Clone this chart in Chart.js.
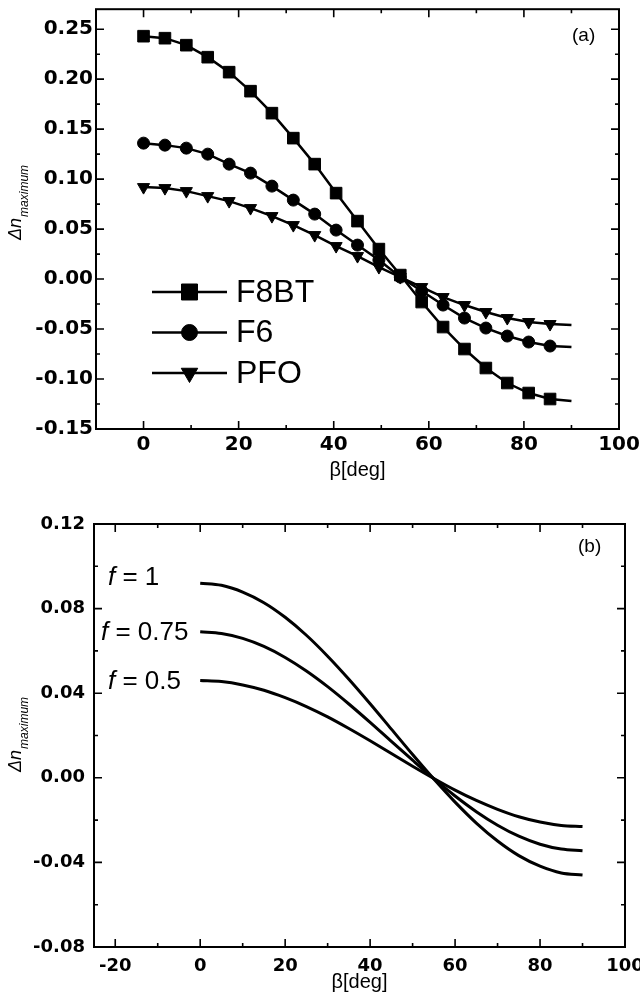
<!DOCTYPE html>
<html><head><meta charset="utf-8">
<script src="https://cdn.jsdelivr.net/npm/chart.js@4.4.1/dist/chart.umd.min.js"></script>
<style>
html,body{margin:0;padding:0;background:#fff;width:640px;height:1004px;overflow:hidden}
#ca{position:absolute;left:0;top:0}
#cb{position:absolute;left:0;top:480px}
</style></head><body>
<canvas id="ca" width="640" height="480"></canvas>
<canvas id="cb" width="640" height="524"></canvas>
<script>
// ---------- data ----------
const betaA = [0,4.5,9,13.5,18,22.5,27,31.5,36,40.5,45,49.5,54,58.5,63,67.5,72,76.5,81,85.5,90];
const f8bt = [0.243,0.241,0.234,0.222,0.207,0.188,0.166,0.141,0.115,0.086,0.058,0.030,0.004,-0.023,-0.048,-0.070,-0.089,-0.104,-0.114,-0.120,-0.122];
const f6   = [0.136,0.134,0.131,0.125,0.115,0.106,0.093,0.079,0.065,0.049,0.034,0.019,0.002,-0.012,-0.026,-0.039,-0.049,-0.057,-0.063,-0.067,-0.068];
const pfo  = [0.092,0.091,0.088,0.083,0.078,0.071,0.063,0.054,0.044,0.033,0.023,0.012,0.002,-0.008,-0.018,-0.026,-0.033,-0.039,-0.043,-0.045,-0.046];
const seriesA = ['F8BT','F6','PFO'];

const betaB = [0,5,10,15,20,25,30,35,40,45,50,55,60,65,70,75,80,85,90];
const fOne  = [0.092,0.091,0.0878,0.0828,0.0759,0.0674,0.0575,0.0466,0.035,0.023,0.011,-0.0006,-0.0115,-0.0214,-0.0299,-0.0368,-0.0418,-0.045,-0.046];
const fHigh = [0.069,0.0682,0.0659,0.0621,0.0569,0.0505,0.0431,0.0349,0.0262,0.0172,0.0083,-0.0004,-0.0086,-0.016,-0.0224,-0.0276,-0.0314,-0.0337,-0.0345];
const fHalf = [0.046,0.0455,0.0439,0.0414,0.0379,0.0337,0.0288,0.0233,0.0175,0.0115,0.0055,-0.0003,-0.0058,-0.0107,-0.0149,-0.0184,-0.0209,-0.0225,-0.023];
const seriesB = ['f = 1','f = 0.75','f = 0.5'];

// tick values
const xTicksA = [0,20,40,60,80,100];
const yTicksA = [-0.15,-0.10,-0.05,0,0.05,0.10,0.15,0.20,0.25];
const xTicksB = [-20,0,20,40,60,80,100];
const yTicksB = [-0.08,-0.04,0,0.04,0.08,0.12];

const xTitle = 'β[deg]';
const yTitleMain = 'Δn', yTitleSub = 'maximum';
const panelA = '(a)', panelB = '(b)';

// ---------- helpers ----------
const pts = (xs, ys) => xs.map((x,i)=>({x, y: ys[i]}));
const fmt2 = v => Math.abs(v) < 1e-9 ? '0.00' : Number(v).toFixed(2);
const tickFont = (s) => ({family:'DejaVu Sans', weight:'bold', size:s});

const frameTicks = {
  id:'frameTicks',
  afterDatasetsDraw(chart, args, o) {
    const {ctx, chartArea:a} = chart;
    const xs = chart.scales.x, ys = chart.scales.y;
    ctx.save();
    ctx.strokeStyle = '#000';
    ctx.lineWidth = 2;
    ctx.strokeRect(a.left, a.top, a.right - a.left, a.bottom - a.top);
    ctx.lineWidth = 1.6;
    const run = (scale, minorStep, majorStep, horiz) => {
      const k0 = Math.ceil(scale.min / minorStep - 1e-9), k1 = Math.floor(scale.max / minorStep + 1e-9);
      for (let k = k0; k <= k1; k++) {
        const v = k * minorStep;
        const r = v / majorStep;
        const major = Math.abs(r - Math.round(r)) < 1e-6;
        const L = major ? 8 : 4;
        const p = scale.getPixelForValue(v);
        ctx.beginPath();
        if (horiz) {
          if (p <= a.left + 1 || p >= a.right - 1) continue;
          ctx.moveTo(p, a.bottom); ctx.lineTo(p, a.bottom - L);
          ctx.moveTo(p, a.top); ctx.lineTo(p, a.top + L);
        } else {
          if (p <= a.top + 1 || p >= a.bottom - 1) continue;
          ctx.moveTo(a.left, p); ctx.lineTo(a.left + L, p);
          ctx.moveTo(a.right, p); ctx.lineTo(a.right - L, p);
        }
        ctx.stroke();
      }
    };
    run(xs, o.xMinor, o.xMajor, true);
    run(ys, o.yMinor, o.yMajor, false);
    ctx.restore();
  }
};

function marker(ctx, style, r, x, y, rot) {
  ctx.fillStyle = '#000'; ctx.strokeStyle = '#000'; ctx.lineWidth = 1;
  if (Chart.helpers && Chart.helpers.drawPoint) {
    Chart.helpers.drawPoint(ctx, {pointStyle: style, radius: r, rotation: rot || 0, borderWidth: 1}, x, y);
  }
}

const extras = {
  id:'extras',
  afterDraw(chart, args, o) {
    const ctx = chart.ctx;
    ctx.save();
    ctx.fillStyle = '#000';
    if (o.yTitle) {
      const t = o.yTitle;
      ctx.save();
      ctx.translate(t.x, t.y);
      ctx.rotate(-Math.PI/2);
      ctx.textBaseline = 'alphabetic';
      ctx.textAlign = 'left';
      ctx.font = 'italic 18px "Liberation Sans"';
      ctx.fillText(yTitleMain, 0, 0);
      const w = ctx.measureText(yTitleMain).width;
      ctx.font = 'italic 12px "Liberation Sans"';
      ctx.fillText(yTitleSub, w + 1, 6.5);
      ctx.restore();
    }
    if (o.legend) {
      const L = o.legend;
      chart.data.datasets.forEach((ds, i) => {
        const y = L.y0 + i * L.dy;
        ctx.strokeStyle = '#000'; ctx.lineWidth = 2.5;
        ctx.beginPath(); ctx.moveTo(L.x0, y); ctx.lineTo(L.x1, y); ctx.stroke();
        marker(ctx, ds.pointStyle, L.r[i], (L.x0 + L.x1) / 2, y, ds.rotation);
        ctx.fillStyle = '#000';
        ctx.font = '32px "Liberation Sans"';
        ctx.textBaseline = 'middle'; ctx.textAlign = 'left';
        ctx.fillText(ds.label, L.tx, y + 1);
      });
    }
    (o.labels || []).forEach(lb => {
      let x = lb.x;
      ctx.textBaseline = 'middle'; ctx.textAlign = 'left';
      lb.parts.forEach(p => {
        ctx.font = p.font;
        ctx.fillText(p.t, x, lb.y);
        x += ctx.measureText(p.t).width;
      });
    });
    ctx.restore();
  }
};

Chart.defaults.font.family = 'Liberation Sans';
Chart.defaults.color = '#000';

function axes(cfg) {
  return {
    x: {
      type:'linear', position:'bottom', min: cfg.xmin, max: cfg.xmax,
      afterBuildTicks(s){ s.ticks = cfg.xt.map(v => ({value: v})); },
      ticks:{autoSkip:false, maxRotation:0, minRotation:0,
        padding: cfg.xpad, color:'#000', font: tickFont(cfg.fs), callback: v => String(v)},
      grid:{display:false, drawTicks:false}, border:{display:false},
      title:{display:true, text:xTitle, color:'#000', font:{family:'Liberation Sans', size:20, lineHeight:1}, padding:{top:0, bottom: cfg.tpad}},
      afterFit(s){ s.height = cfg.xh; s.paddingLeft = 0; s.paddingRight = 0; }
    },
    y: {
      type:'linear', position:'left', min: cfg.ymin, max: cfg.ymax,
      afterBuildTicks(s){ s.ticks = cfg.yt.map(v => ({value: v})); },
      ticks:{autoSkip:false, padding: cfg.ypad, color:'#000', font: tickFont(cfg.fs), callback: v => fmt2(v)},
      grid:{display:false, drawTicks:false}, border:{display:false},
      afterFit(s){ s.width = cfg.yw; s.paddingTop = 0; s.paddingBottom = 0; }
    }
  };
}

// ---------- chart (a) ----------
const rA = (r) => betaA.map((b, i) => i === betaA.length - 1 ? 0 : r);
new Chart(document.getElementById('ca'), {
  type:'scatter',
  data:{ datasets:[
    {label: seriesA[0], data: pts(betaA, f8bt), pointStyle:'rect', rotation:0, pointRadius: rA(8.2)},
    {label: seriesA[1], data: pts(betaA, f6), pointStyle:'circle', rotation:0, pointRadius: rA(6)},
    {label: seriesA[2], data: pts(betaA, pfo), pointStyle:'triangle', rotation:180, pointRadius: rA(7)}
  ].map(d => Object.assign(d, {showLine:true, borderColor:'#000', backgroundColor:'#000', borderWidth:2.5, pointBorderWidth:1, pointBackgroundColor:'#000', pointBorderColor:'#000', pointRotation: d.rotation, tension:0}))},
  options:{
    responsive:false, animation:false, events:[],
    layout:{padding:{top:7, right:21, left:0, bottom:0}},
    scales: axes({xmin:-10, xmax:100, ymin:-0.15, ymax:0.27, xt:xTicksA, yt:yTicksA, fs:20, xpad:4, ypad:3, xh:51, yw:96, tpad:0}),
    plugins:{
      legend:{display:false}, tooltip:{enabled:false},
      frameTicks:{xMinor:10, xMajor:20, yMinor:0.025, yMajor:0.05},
      extras:{
        yTitle:{x:21, y:240},
        legend:{x0:152, x1:227, y0:292, dy:40.5, tx:236, r:[11.3, 8, 9.5]},
        labels:[{x:572, y:36, parts:[{t:panelA, font:'19px "Liberation Sans"'}]}]
      }
    }
  },
  plugins:[frameTicks, extras]
});

// ---------- chart (b) ----------
const fItal = 'italic 26px "Liberation Sans"', fReg = '26px "Liberation Sans"';
const labelParts = s => [{t: s.slice(0,1), font: fItal}, {t: s.slice(1), font: fReg}];
new Chart(document.getElementById('cb'), {
  type:'scatter',
  data:{ datasets:[
    {label: seriesB[0], data: pts(betaB, fOne)},
    {label: seriesB[1], data: pts(betaB, fHigh)},
    {label: seriesB[2], data: pts(betaB, fHalf)}
  ].map(d => Object.assign(d, {showLine:true, borderColor:'#000', borderWidth:3, pointRadius:0, cubicInterpolationMode:'monotone'}))},
  options:{
    responsive:false, animation:false, events:[],
    layout:{padding:{top:44, right:15, left:0, bottom:0}},
    scales: axes({xmin:-25, xmax:100, ymin:-0.08, ymax:0.12, xt:xTicksB, yt:yTicksB, fs:18, xpad:9, ypad:9, xh:57, yw:94, tpad:12}),
    plugins:{
      legend:{display:false}, tooltip:{enabled:false},
      frameTicks:{xMinor:10, xMajor:20, yMinor:0.02, yMajor:0.04},
      extras:{
        yTitle:{x:21, y:292},
        labels:[
          {x:108, y:98, parts: labelParts(seriesB[0])},
          {x:101, y:153, parts: labelParts(seriesB[1])},
          {x:108, y:202, parts: labelParts(seriesB[2])},
          {x:578, y:67, parts:[{t:panelB, font:'19px "Liberation Sans"'}]}
        ]
      }
    }
  },
  plugins:[frameTicks, extras]
});
</script>
</body></html>
